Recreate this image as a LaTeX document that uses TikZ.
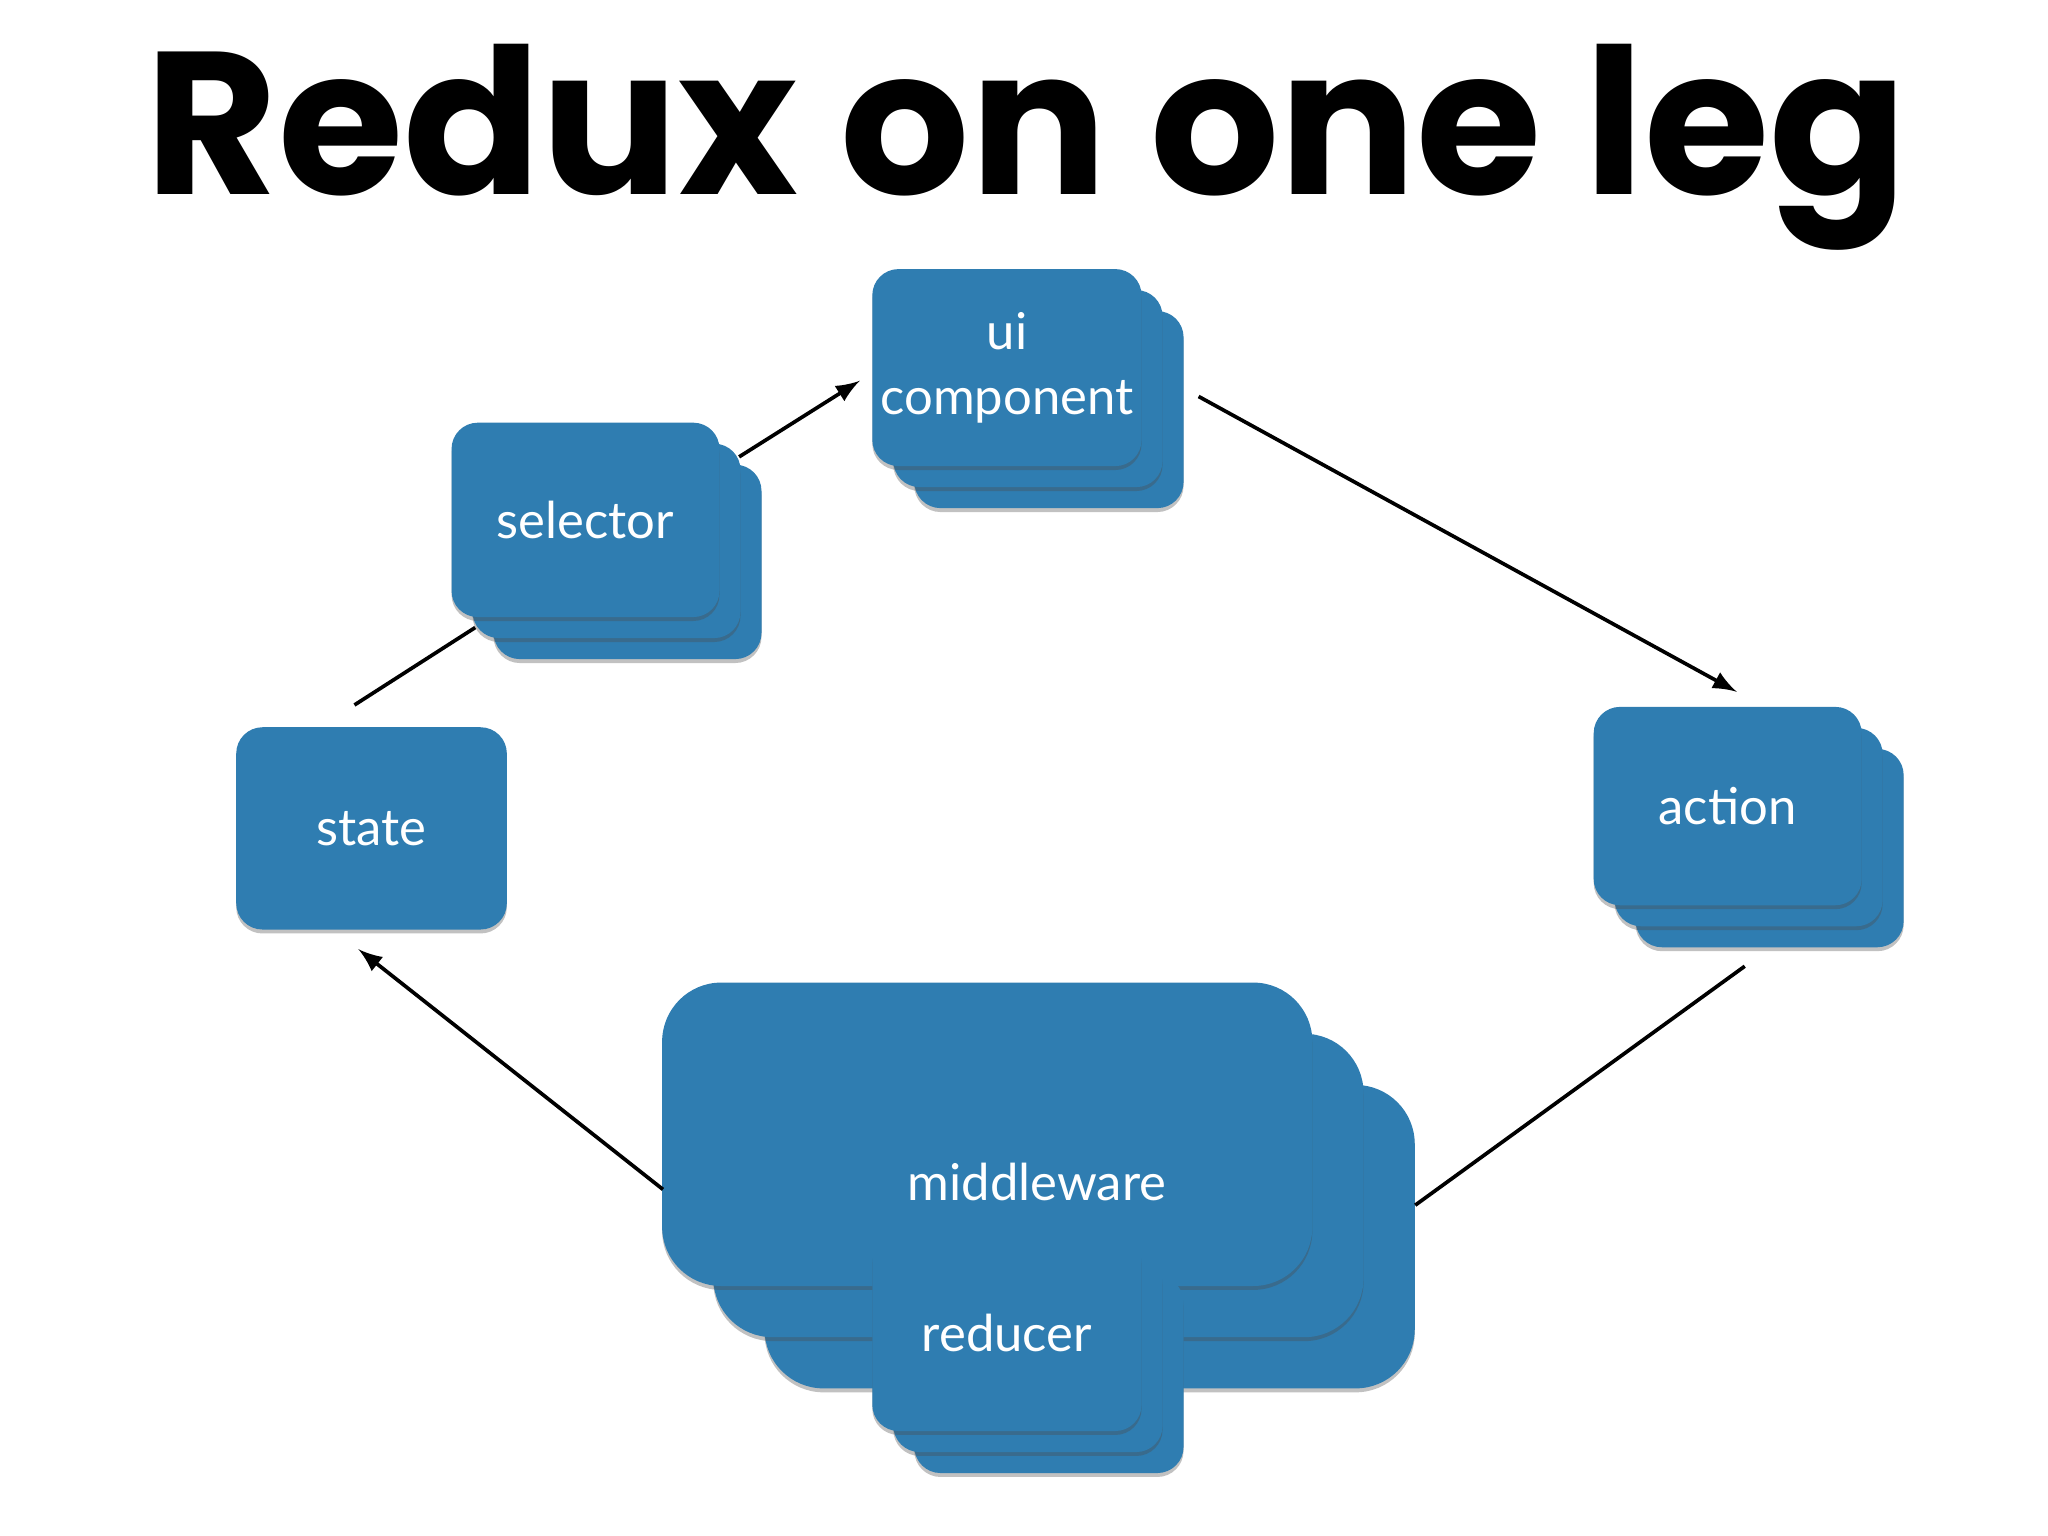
\documentclass[tikz,border=0pt]{standalone}
\usepackage{fontspec}
\setmainfont{Lato}
\newfontfamily\titlefont{Poppins}
\usetikzlibrary{shadows}
\definecolor{cardblue}{HTML}{2F7DB1}
\tikzset{
  card/.style={fill=cardblue, draw=none, rounded corners=#1, inner sep=0pt,
    drop shadow={shadow xshift=0pt, shadow yshift=-0.03cm, opacity=0.35, fill=black!70}},
  card/.default=0.2cm,
  lbl/.style={text=white, font=\fontsize{11}{14}\selectfont, align=center},
  conn/.style={draw=black, line width=0.8pt},
  arr/.style={conn, -latex}
}
% name, cx, cy, w, h, offset, radius, text
\newcommand\cardstack[8]{
  \node[card=#7, minimum width=#4cm, minimum height=#5cm] (#1c) at ({#2+2*#6},{#3+2*#6}) {};
  \node[card=#7, minimum width=#4cm, minimum height=#5cm] (#1b) at ({#2+#6},{#3+#6}) {};
  \node[card=#7, minimum width=#4cm, minimum height=#5cm, lbl] (#1) at (#2,#3) {#8};
}
\begin{document}
\begin{tikzpicture}[x=0.01cm,y=-0.01cm]
\useasboundingbox (0,0) rectangle (1560,1170);
\node[font=\titlefont\bfseries\fontsize{44}{50}\selectfont, inner sep=0pt] (title) at (782,112) {Redux on one leg};

\cardstack{mw}{752}{864}{4.95}{2.31}{39}{0.45cm}{}
\node[lbl] (mwt) at (790,900) {middleware};
\cardstack{ui}{767}{280}{2.05}{1.5}{16}{0.2cm}{ui\\component}
\cardstack{sel}{446}{396}{2.04}{1.48}{16}{0.2cm}{selector}
\node[card, minimum width=2.06cm, minimum height=1.54cm, lbl] (state) at (283,631) {state};
\cardstack{act}{1316}{614}{2.04}{1.51}{16}{0.2cm}{action}
\cardstack{red}{767}{1015}{2.05}{1.5}{16}{0.2cm}{reducer}

\coordinate (a1) at (270,537); \coordinate (a2) at (362,478);
\coordinate (b1) at (563,348); \coordinate (b2) at (655,290);
\coordinate (c1) at (913,302); \coordinate (c2) at (1323,527);
\coordinate (d1) at (1329,736); \coordinate (d2) at (1078,918);
\coordinate (e1) at (505,906); \coordinate (e2) at (273,723);
\draw[conn] (a1) -- (a2);
\draw[arr] (b1) -- (b2);
\draw[arr] (c1) -- (c2);
\draw[conn] (d1) -- (d2);
\draw[arr] (e1) -- (e2);
\end{tikzpicture}
\end{document}
